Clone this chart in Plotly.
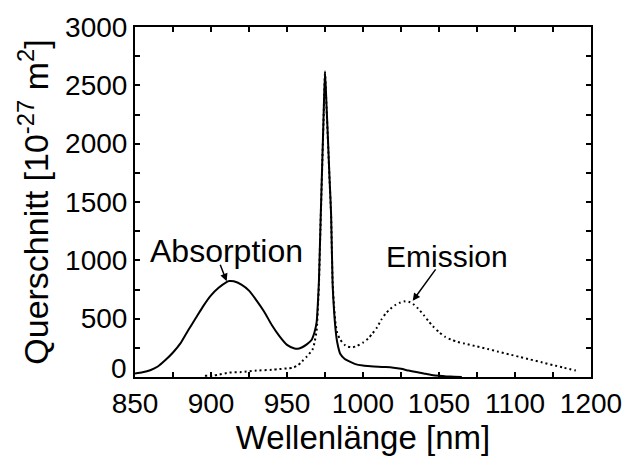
import plotly.graph_objects as go

# Absorption cross section (solid line)
abs_wl = [850, 855, 860, 865, 870, 875, 880, 885, 890, 895, 900, 905, 910, 912,
          915, 920, 925, 930, 935, 940, 945, 950, 955, 958, 960, 963, 966, 968,
          969.5, 970.5, 971, 972, 973, 974, 975, 976, 977, 978, 979, 980, 981,
          982, 983, 985, 988, 990, 995, 1000, 1005, 1010, 1015, 1020, 1025,
          1030, 1035, 1040, 1045, 1050, 1055, 1060, 1065]
abs_val = [30, 40, 58, 90, 145, 210, 290, 400, 505, 610, 700, 765, 812, 822,
           820, 792, 740, 655, 560, 445, 350, 275, 245, 245, 255, 280, 315, 380,
           470, 680, 820, 1290, 1750, 2200, 2620, 2330, 2020, 1700, 1400, 800, 560,
           400, 300, 200, 155, 140, 110, 98, 92, 88, 85, 80, 70,
           55, 42, 30, 18, 10, 5, 2, 0]

# Emission cross section (dotted line)
emi_wl = [896, 901, 905, 912, 920, 930, 940, 945, 950, 954, 957, 959, 960, 963,
          966.8, 968, 969.5, 970.5, 971, 972, 973, 974, 975, 976, 977, 978, 979,
          980, 981, 982, 983, 985, 988, 990, 993, 996, 1000, 1003.5, 1006, 1009,
          1012, 1015, 1018, 1021, 1024, 1027, 1030, 1033, 1036, 1040, 1043, 1046,
          1050, 1054, 1058, 1062, 1067, 1075, 1082, 1089, 1096, 1103, 1110, 1118,
          1125, 1132, 1140]
emi_val = [10, 12, 20, 38, 42, 55, 62, 68, 74, 80, 100, 121, 135, 175,
           235, 290, 400, 640, 790, 1270, 1730, 2180, 2600, 2310, 2000, 1690, 1390,
           820, 600, 450, 380, 320, 275, 260, 255, 265, 295, 330, 370, 420,
           490, 545, 585, 615, 635, 648, 645, 625, 590, 530, 480, 435,
           385, 345, 320, 302, 286, 262, 240, 217, 195, 172, 150, 125,
           102, 80, 55]

x_tick_vals = [850, 900, 950, 1000, 1050, 1100, 1150]
x_tick_text = ["850", "900", "950", "1000", "1050", "1100", "1200"]
y_tick_vals = [500, 1000, 1500, 2000, 2500, 3000]
y_zero_label = "0"

FONT = "Liberation Sans, Arial, sans-serif"
TICK_SIZE = 28

fig = go.Figure()
fig.add_trace(go.Scatter(x=abs_wl, y=abs_val, mode="lines",
                         line=dict(color="black", width=2, shape="spline",
                                   smoothing=0.6),
                         showlegend=False))
fig.add_trace(go.Scatter(x=emi_wl, y=emi_val, mode="lines",
                         line=dict(color="black", width=2, dash="2px,3px",
                                   shape="spline", smoothing=0.6),
                         showlegend=False))

axis_common = dict(
    showline=True, linecolor="black", linewidth=2, mirror="ticks",
    ticks="inside", ticklen=5, tickwidth=1.5, tickcolor="black",
    showgrid=False, zeroline=False,
    tickfont=dict(family=FONT, size=TICK_SIZE, color="black"),
)

fig.update_xaxes(range=[850, 1150], tickvals=x_tick_vals, ticktext=x_tick_text,
                 minor=dict(dtick=25, tick0=850, ticks="inside", ticklen=5,
                            tickwidth=1.5, tickcolor="black"),
                 title=dict(text="Wellenlänge [nm]",
                            font=dict(family=FONT, size=33, color="black"),
                            standoff=2),
                 **axis_common)
fig.update_yaxes(range=[0, 3000], tickvals=y_tick_vals,
                 minor=dict(dtick=250, tick0=0, ticks="inside", ticklen=5,
                            tickwidth=1.5, tickcolor="black"),
                 title=dict(text="Querschnitt [10<sup>-27</sup> m<sup>2</sup>]",
                            font=dict(family=FONT, size=34, color="black"),
                            standoff=6),
                 **axis_common)

# zero label of the y axis, lifted clear of the x tick labels
fig.add_annotation(x=0, xref="paper", y=0, yref="y", text=y_zero_label,
                   showarrow=False, xanchor="right", yanchor="middle",
                   xshift=-6, yshift=9,
                   font=dict(family=FONT, size=TICK_SIZE, color="black"))

# Curve labels with arrows
fig.add_annotation(x=910.5, y=1079, text="Absorption", showarrow=False,
                   font=dict(family=FONT, size=32, color="black"))
fig.add_annotation(x=1055, y=1037, text="Emission", showarrow=False,
                   font=dict(family=FONT, size=30, color="black"))
fig.add_annotation(x=910.3, y=821, text="", showarrow=True, ax=-7, ay=-18,
                   arrowhead=2, arrowsize=1, arrowwidth=1.5, arrowcolor="black")
fig.add_annotation(x=1032.7, y=653, text="", showarrow=True, ax=24, ay=-33,
                   arrowhead=2, arrowsize=1, arrowwidth=1.5, arrowcolor="black")

fig.update_layout(
    width=634, height=456,
    margin=dict(l=135, r=37, t=20, b=74),
    paper_bgcolor="white", plot_bgcolor="white",
)

fig.write_html("out.html")
